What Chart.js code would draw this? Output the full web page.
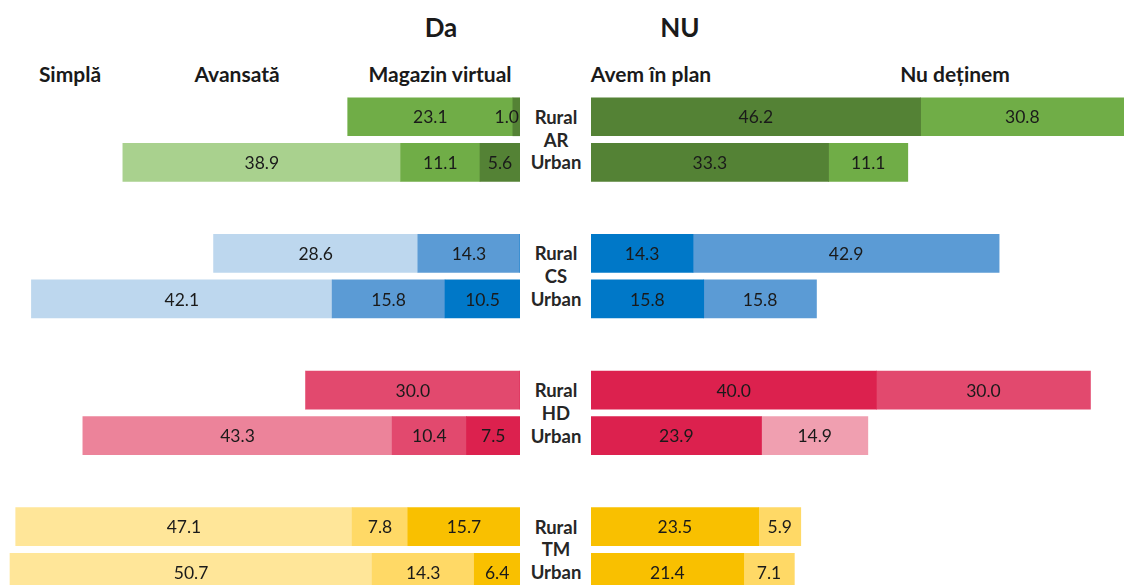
<!DOCTYPE html>
<html>
<head>
<meta charset="utf-8">
<script src="https://cdn.jsdelivr.net/npm/chart.js@4.4.1/dist/chart.umd.min.js"></script>
<style>
  html, body { margin: 0; padding: 0; width: 1124px; height: 585px; overflow: hidden; background: #fff; }
  body { position: relative; font-family: Lato, "Open Sans", sans-serif; color: #1a1a1a; }
  .hdr { position: absolute; transform: translate(-50%, -50%); font-weight: bold; white-space: nowrap; }
  .big { font-size: 26px; }
  .col { font-size: 21px; }
  .mid { position: absolute; transform: translate(-50%, -50%); font-weight: bold; font-size: 18.5px; color: #262626; }
  .box { position: absolute; top: 94px; height: 501px; }
</style>
</head>
<body>

<div class="hdr big" style="left:441px;top:27px">Da</div>
<div class="hdr big" style="left:680px;top:27px">NU</div>
<div class="hdr col" style="left:70px;top:73px">Simplă</div>
<div class="hdr col" style="left:237px;top:73px">Avansată</div>
<div class="hdr col" style="left:440px;top:73px">Magazin virtual</div>
<div class="hdr col" style="left:651px;top:73px">Avem în plan</div>
<div class="hdr col" style="left:955px;top:73px">Nu deținem</div>

<div class="box" style="left:0;width:520px"><canvas id="leftChart"></canvas></div>
<div class="box" style="left:591px;width:533px"><canvas id="rightChart"></canvas></div>
<div id="midLabels"></div>

<script>
/* =========================
   DATA
========================= */

const regions = ["AR", "CS", "HD", "TM"];
const areas = ["Rural", "Urban"];

// one value per row: AR Rural, AR Urban, CS Rural, CS Urban, HD Rural, HD Urban, TM Rural, TM Urban
const simpla    = [0,    38.9, 28.6, 42.1, 0,    43.3, 47.1, 50.7];
const avansata  = [23.1, 11.1, 14.3, 15.8, 30.0, 10.4, 7.8,  14.3];
const magazin   = [1.0,  5.6,  0,    10.5, 0,    7.5,  15.7, 6.4];
const avemPlan  = [46.2, 33.3, 14.3, 15.8, 40.0, 23.9, 23.5, 21.4];
const nuDetinem = [30.8, 11.1, 42.9, 15.8, 30.0, 14.9, 5.9,  7.1];

/* =========================
   COLOURS
========================= */

const simplaColors    = ["#A9D18E", "#A9D18E", "#BDD7EE", "#BDD7EE", "#EC839A", "#EC839A", "#FFE699", "#FFE699"];
const avansataColors  = ["#70AD47", "#70AD47", "#5B9BD5", "#5B9BD5", "#E2496E", "#E2496E", "#FFD966", "#FFD966"];
const magazinColors   = ["#548235", "#548235", "#0078C8", "#0078C8", "#DC214E", "#DC214E", "#F9C000", "#F9C000"];
const avemPlanColors  = ["#548235", "#548235", "#0078C8", "#0078C8", "#DC214E", "#DC214E", "#F9C000", "#F9C000"];
const nuDetinemColors = ["#70AD47", "#70AD47", "#5B9BD5", "#5B9BD5", "#E2496E", "#F09FB0", "#FFD966", "#FFD966"];

// px per unit is the same on both sides
const LEFT_MAX = 72.8;
const RIGHT_MAX = 74.7;

/* =========================
   HELPERS
========================= */

// insert an empty row between regions
function withGaps(arr, filler) {
  const out = [];
  regions.forEach((r, i) => {
    if (i > 0) out.push(filler);
    out.push(arr[i * 2], arr[i * 2 + 1]);
  });
  return out;
}

const rowLabels = [];
regions.forEach((r, i) => {
  if (i > 0) rowLabels.push("gap" + i);
  areas.forEach(a => rowLabels.push(r + " " + a));
});

const valueLabels = {
  id: "valueLabels",
  afterDatasetsDraw(chart) {
    const { ctx, chartArea } = chart;
    ctx.save();
    ctx.font = "17.5px Lato, 'Open Sans', sans-serif";
    ctx.fillStyle = "#1a1a1a";
    ctx.textAlign = "center";
    ctx.textBaseline = "middle";
    const clampX = x => Math.min(Math.max(x, chartArea.left), chartArea.right);
    chart.data.datasets.forEach((ds, i) => {
      chart.getDatasetMeta(i).data.forEach((bar, j) => {
        const v = ds.data[j];
        if (!v) return;
        const text = v.toFixed(1);
        const w = ctx.measureText(text).width;
        let x = (clampX(bar.x) + clampX(bar.base)) / 2;
        x = Math.min(Math.max(x, chartArea.left + w / 2), chartArea.right - w / 2 - 1);
        ctx.fillText(text, x, bar.y + 1);
      });
    });
    ctx.restore();
  }
};

function makeDataset(label, values, colors) {
  return {
    label,
    data: withGaps(values, null),
    backgroundColor: withGaps(colors, "#fff"),
    borderWidth: 0,
    barThickness: 38
  };
}

function makeChart(id, datasets, reverse, max) {
  return new Chart(document.getElementById(id), {
    type: "bar",
    data: { labels: rowLabels, datasets },
    options: {
      indexAxis: "y",
      responsive: true,
      maintainAspectRatio: false,
      animation: false,
      layout: { padding: 0 },
      plugins: {
        legend: { display: false },
        tooltip: { enabled: false }
      },
      scales: {
        x: { stacked: true, reverse, min: 0, max, display: false },
        y: { stacked: true, display: false }
      }
    },
    plugins: [valueLabels]
  });
}

/* =========================
   CHARTS
========================= */

const leftChart = makeChart("leftChart", [
  makeDataset("Magazin virtual", magazin, magazinColors),
  makeDataset("Avansată", avansata, avansataColors),
  makeDataset("Simplă", simpla, simplaColors)
], true, LEFT_MAX);

const rightChart = makeChart("rightChart", [
  makeDataset("Avem în plan", avemPlan, avemPlanColors),
  makeDataset("Nu deținem", nuDetinem, nuDetinemColors)
], false, RIGHT_MAX);

/* =========================
   CENTER LABELS
========================= */

const mid = document.getElementById("midLabels");
const yScale = leftChart.scales.y;
regions.forEach((r, i) => {
  const ruralY = 94 + yScale.getPixelForValue(i * 3);
  const urbanY = 94 + yScale.getPixelForValue(i * 3 + 1);
  [[areas[0], ruralY], [r, (ruralY + urbanY) / 2], [areas[1], urbanY]].forEach(([t, y]) => {
    const d = document.createElement("div");
    d.className = "mid";
    d.style.left = "556px";
    d.style.top = y + "px";
    d.textContent = t;
    mid.appendChild(d);
  });
});
</script>
</body>
</html>
